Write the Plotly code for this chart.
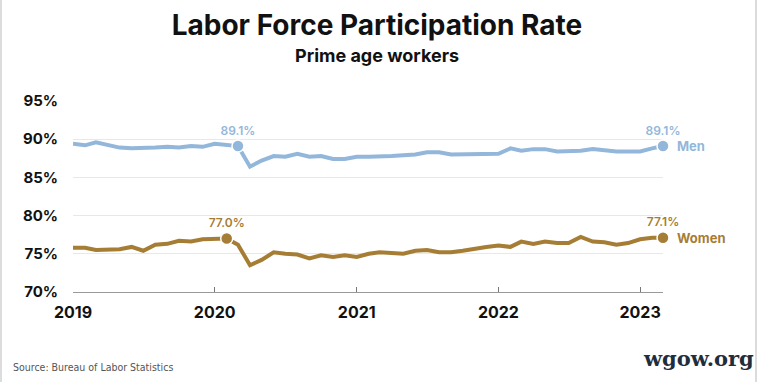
import plotly.graph_objects as go
import pandas as pd

months = pd.date_range("2019-01-01", "2023-03-01", freq="MS").strftime("%Y-%m-%d").tolist()

men = [89.4, 89.2, 89.6, 89.3, 88.9, 88.8, 88.8, 88.9, 89.0, 88.9, 89.1, 89.0,
       89.4, 89.2, 89.1, 86.4, 87.2, 87.8, 87.7, 88.1, 87.7, 87.8, 87.4, 87.4,
       87.7, 87.7, 87.7, 87.8, 87.9, 88.0, 88.3, 88.3, 88.0, 88.0, 88.1, 88.0,
       88.1, 88.8, 88.5, 88.7, 88.7, 88.4, 88.4, 88.5, 88.7, 88.5, 88.4, 88.4,
       88.4, 88.8, 89.1]
women = [75.8, 75.8, 75.5, 75.5, 75.6, 75.9, 75.4, 76.2, 76.3, 76.7, 76.6, 76.9,
         76.9, 77.0, 76.2, 73.5, 74.2, 75.2, 75.0, 74.9, 74.4, 74.8, 74.6, 74.8,
         74.6, 75.0, 75.2, 75.1, 75.0, 75.4, 75.5, 75.2, 75.2, 75.4, 75.7, 75.9,
         76.1, 75.9, 76.6, 76.3, 76.6, 76.4, 76.4, 77.2, 76.6, 76.5, 76.2, 76.4,
         76.9, 77.1, 77.1]

men_mark = ["2020-03-01", "2023-03-01"]
women_mark = ["2020-02-01", "2023-03-01"]
year_ticks = ["2019-01-01", "2020-01-01", "2021-01-01", "2022-01-01", "2023-01-01"]
year_labels = ["2019", "2020", "2021", "2022", "2023"]
y_ticks = [70, 75, 80, 85, 90, 95]

MEN_C = "#93b7da"
WOMEN_C = "#a67d34"
FONT = "Inter, Lato, sans-serif"

men_map = dict(zip(months, men))
women_map = dict(zip(months, women))

fig = go.Figure()
fig.add_trace(go.Scatter(x=months, y=men, mode="lines", line=dict(color=MEN_C, width=4),
                         hoverinfo="skip", showlegend=False))
fig.add_trace(go.Scatter(x=months, y=women, mode="lines", line=dict(color=WOMEN_C, width=4),
                         hoverinfo="skip", showlegend=False))
fig.add_trace(go.Scatter(x=men_mark, y=[men_map[m] for m in men_mark], mode="markers+text",
                         marker=dict(color=MEN_C, size=12, line=dict(color="white", width=1.5)),
                         text=[f"{men_map[m]:.1f}%" for m in men_mark], textposition="top center",
                         textfont=dict(family=FONT, size=12, color=MEN_C, weight=600),
                         hoverinfo="skip", showlegend=False, cliponaxis=False))
fig.add_trace(go.Scatter(x=women_mark, y=[women_map[m] for m in women_mark], mode="markers+text",
                         marker=dict(color=WOMEN_C, size=12, line=dict(color="white", width=1.5)),
                         text=[f"{women_map[m]:.1f}%" for m in women_mark], textposition="top center",
                         textfont=dict(family=FONT, size=12, color=WOMEN_C, weight=600),
                         hoverinfo="skip", showlegend=False, cliponaxis=False))

fig.add_annotation(x=months[-1], y=men[-1], text="<b>Men</b>", xanchor="left", yanchor="middle",
                   xshift=12, showarrow=False, font=dict(family=FONT, size=13, color=MEN_C))
fig.add_annotation(x=months[-1], y=women[-1], text="<b>Women</b>", xanchor="left", yanchor="middle",
                   xshift=12, showarrow=False, font=dict(family=FONT, size=13, color=WOMEN_C))

fig.update_layout(
    width=765, height=382,
    margin=dict(l=73, r=102, t=101, b=90),
    paper_bgcolor="white", plot_bgcolor="white",
    title=dict(text="<b>Labor Force Participation Rate</b>", x=(377 - 73) / 590, xref="paper",
               xanchor="center", y=1 - 25 / 382, yref="container", yanchor="middle",
               font=dict(family=FONT, size=28, color="#111111")),
    font=dict(family=FONT),
)
fig.add_annotation(text="<b>Prime age workers</b>", xref="paper", yref="paper",
                   x=(377 - 73) / 590, y=1 + (101 - 55) / 191, xanchor="center", yanchor="middle",
                   showarrow=False, font=dict(family=FONT, size=18, color="#111111"))
fig.add_annotation(text="Source: Bureau of Labor Statistics", xref="paper", yref="paper",
                   x=(11 - 73) / 590, y=-(367 - 292) / 191, xanchor="left", yanchor="middle",
                   showarrow=False,
                   font=dict(family="'Liberation Sans Narrow', 'DejaVu Sans Condensed', sans-serif",
                             size=10.5, color="#555555"))
fig.add_annotation(text="<b>wgow.org</b>", xref="paper", yref="paper",
                   x=(756 - 73) / 590, y=-(358 - 292) / 191, xanchor="right", yanchor="middle",
                   showarrow=False, font=dict(family="'DejaVu Serif', serif", size=21, color="#1f2e3d"))

# frame lines on left and right edges
for px in (1, 756):
    fig.add_shape(type="line", xref="paper", yref="paper",
                  x0=(px - 73) / 590, x1=(px - 73) / 590, y0=-90 / 191, y1=1 + 101 / 191,
                  line=dict(color="#d0d0d0", width=1.5))

fig.update_xaxes(range=[months[0], months[-1]], tickvals=year_ticks, ticktext=year_labels,
                 ticks="inside", ticklen=5, tickcolor="#777777", tickwidth=1,
                 showline=True, linecolor="#999999", linewidth=1, showgrid=False, zeroline=False,
                 tickfont=dict(family=FONT, size=16, color="#111111", weight="bold"),
                 ticklabelstandoff=6)
fig.update_yaxes(range=[70, 95], tickvals=y_ticks, ticktext=[f"{v}%" for v in y_ticks],
                 showgrid=True, gridcolor="#e8e8e8", gridwidth=1, zeroline=False, showline=False,
                 ticks="", tickfont=dict(family=FONT, size=15, color="#111111", weight="bold"),
                 ticklabelstandoff=14)

fig.write_html("out.html", config={"displayModeBar": False},
               post_script="document.body.style.margin='0px';")
